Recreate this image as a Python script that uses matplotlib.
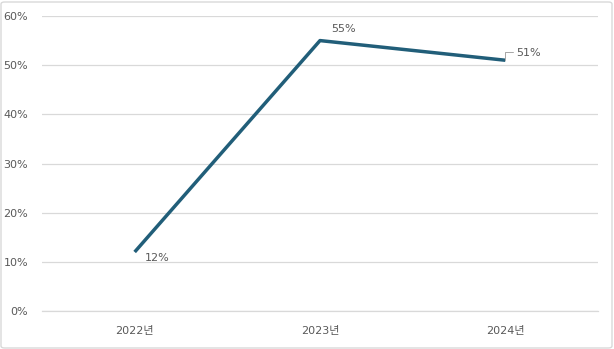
import matplotlib
matplotlib.use("Agg")
import matplotlib.pyplot as plt
from matplotlib.patches import FancyBboxPatch

plt.rcParams['font.family'] = ['DejaVu Sans', 'Noto Sans CJK KR']

# data
years = ['2022년', '2023년', '2024년']
values = [12, 55, 51]
yticks = [0, 10, 20, 30, 40, 50, 60]

line_color = '#215E79'
text_color = '#595959'
grid_color = '#D9D9D9'

fig = plt.figure(figsize=(6.14, 3.49), dpi=100)
ax = fig.add_axes([42 / 614, 1 - 311 / 349, (598 - 42) / 614, (311 - 16) / 349])

x = list(range(len(years)))
ax.plot(x, values, color=line_color, linewidth=2.5, solid_capstyle='butt', zorder=3)

ax.set_xlim(-0.5, len(years) - 0.5)
ax.set_ylim(0, 60)
ax.set_yticks(yticks)
ax.set_yticklabels([f'{v}%' for v in yticks])
ax.set_xticks(x)
ax.set_xticklabels(years)
ax.tick_params(axis='both', length=0, labelsize=8, colors=text_color)
ax.tick_params(axis='y', pad=10)
ax.tick_params(axis='x', pad=11)
ax.grid(axis='y', color=grid_color, linewidth=0.9)
ax.axhline(0, color=grid_color, linewidth=0.9, clip_on=False, zorder=0)
ax.set_axisbelow(True)
for s in ax.spines.values():
    s.set_visible(False)

# data labels
ax.annotate(f'{values[0]}%', (x[0], values[0]), xytext=(7, -4.5), textcoords='offset points',
            fontsize=8, color=text_color, va='center', ha='left')
ax.annotate(f'{values[1]}%', (x[1], values[1]), xytext=(8, 8), textcoords='offset points',
            fontsize=8, color=text_color, va='center', ha='left')
ax.annotate(f'{values[2]}%', (x[2], values[2]), xytext=(8, 5.5), textcoords='offset points',
            fontsize=8, color=text_color, va='center', ha='left')
# leader line for last label
ax.annotate('', (x[2], values[2]), xytext=(5.8, 5.8), textcoords='offset points',
            arrowprops=dict(arrowstyle='-', color='#A6A6A6', lw=0.7, shrinkA=0, shrinkB=0,
                            connectionstyle='angle,angleA=0,angleB=90,rad=0'))

# figure border
border = FancyBboxPatch((1 / 614, 1 / 349), 611 / 614, 346 / 349,
                        boxstyle='round,pad=0,rounding_size=0.006',
                        transform=fig.transFigure, fill=False,
                        edgecolor='#D9D9D9', linewidth=1)
fig.patches.append(border)

fig.savefig('out.png', dpi=100)
